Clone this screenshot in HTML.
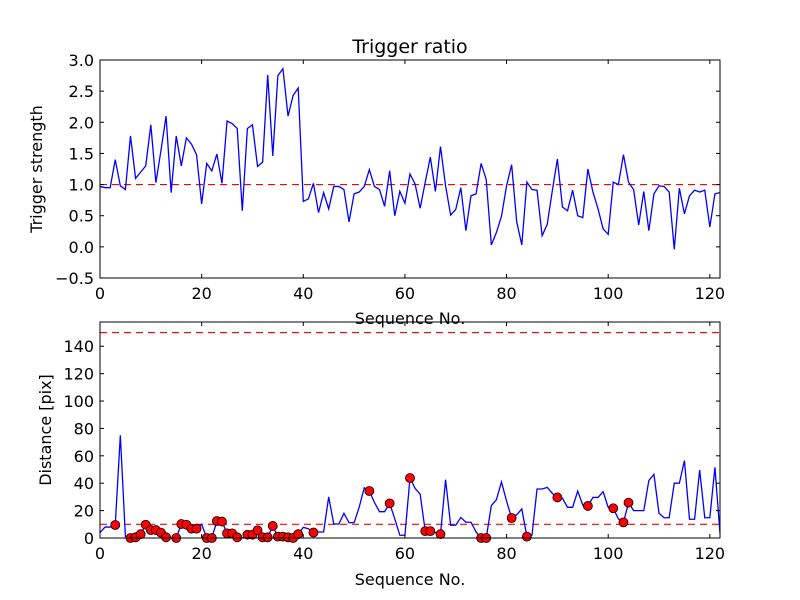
<!DOCTYPE html>
<html><head><meta charset="utf-8"><style>
body{margin:0;background:#fff}
svg{display:block;font-family:"DejaVu Sans","Liberation Sans",sans-serif}
</style></head><body>
<svg id="c" width="800" height="600" xmlns="http://www.w3.org/2000/svg"></svg>
<script>
const xTicks=[0,20,40,60,80,100,120];
const topYTicks=[-0.5,0.0,0.5,1.0,1.5,2.0,2.5,3.0];
const botYTicks=[0,20,40,60,80,100,120,140];
const triggerStrength=[0.97,0.95,0.95,1.40,0.98,0.92,1.78,1.10,1.20,1.30,1.96,1.03,1.55,2.10,0.87,1.78,1.30,1.75,1.65,1.48,0.69,1.34,1.22,1.49,1.02,2.02,1.98,1.90,0.58,1.90,1.96,1.29,1.36,2.76,1.46,2.75,2.86,2.10,2.43,2.55,0.73,0.77,1.02,0.55,0.87,0.61,0.97,0.97,0.92,0.40,0.85,0.88,0.97,1.24,0.97,0.92,0.65,1.22,0.50,0.89,0.70,1.17,1.01,0.62,1.04,1.44,0.89,1.61,0.98,0.51,0.60,0.95,0.26,0.82,0.85,1.34,1.08,0.03,0.23,0.49,0.98,1.32,0.40,0.03,1.04,0.92,0.91,0.18,0.36,0.90,1.41,0.64,0.58,0.91,0.50,0.47,1.25,0.88,0.61,0.29,0.20,1.04,1.00,1.48,1.04,0.92,0.35,0.89,0.26,0.85,0.98,0.97,0.88,-0.04,0.94,0.53,0.82,0.91,0.88,0.91,0.32,0.85,0.87];
const distance=[4,8,8,9.5,75,1,0,0.5,2.8,9.7,5.8,5.8,3.9,0.5,0,0,10.2,9.7,6.8,6.8,10,0,0,12.4,12,3.4,3.4,0.5,0,2.4,2.4,5.6,0.5,0.5,8.8,1,1,0.5,0,2.8,7.8,6.8,4,4.4,4.4,30,10.2,10.2,18,11.2,11.2,22.4,36.7,34.3,26,19.2,19.2,25.3,14,2,2,43.8,36.2,32,5,5,4,2.8,42.6,9.3,9.3,15,11.5,11.5,4.4,0,0,23.6,28,40.9,27,14.6,17,21.2,1,2,35.8,35.8,37,32.6,29.6,29,22.4,22.4,34.3,24,23.4,29.6,29.6,33.8,22.4,21.7,14,11.4,25.8,20,20,20,42,46.5,18,14.8,14.8,40,40,56.5,13.7,13.7,49.6,14.8,14.8,51.6,3.4];
const markerIdx=[3,6,7,8,9,10,11,12,13,15,16,17,18,19,21,22,23,24,25,26,27,29,30,31,32,33,34,35,36,37,38,39,42,53,57,61,64,65,67,75,76,81,84,90,96,101,103,104];
const topThreshold=[1.0];
const botThresholds=[10,150];

const svg=document.getElementById('c');const NS='http://www.w3.org/2000/svg';
function mk(t,a,p){const e=document.createElementNS(NS,t);for(const k in a)e.setAttribute(k,a[k]);(p||svg).appendChild(e);return e;}
const L=100,R=720;
const xs=v=>L+(v/122)*(R-L);
function panel(T,B,ymin,ymax,yticks,fmt,vals,thr,name,ylabel,ylx){
  const g=mk('g',{});
  
  
  const ys=v=>B-(v-ymin)/(ymax-ymin)*(B-T);
  mk('rect',{x:L,y:T,width:R-L,height:B-T,fill:'#fff'},g);
  thr.forEach(t=>{const l=mk('line',{x1:L,x2:R,y1:ys(t),y2:ys(t),stroke:'#ff0000','stroke-width':1.2,'stroke-dasharray':'7,5'},g);
    
    });
  const p=mk('polyline',{points:vals.map((v,i)=>xs(i)+','+ys(v)).join(' '),fill:'none',stroke:'#0000ff','stroke-width':1.3},g);
  
  
  xTicks.forEach(t=>{const x=xs(t);
    mk('line',{x1:x,x2:x,y1:B,y2:B-4,stroke:'#000'},g);mk('line',{x1:x,x2:x,y1:T,y2:T+4,stroke:'#000'},g);
    const tx=mk('text',{x:x,y:B+21,'text-anchor':'middle','font-size':16},g);tx.textContent=t;
    
    });
  yticks.forEach(t=>{const y=ys(t);
    mk('line',{x1:L,x2:L+4,y1:y,y2:y,stroke:'#000'},g);mk('line',{x1:R,x2:R-4,y1:y,y2:y,stroke:'#000'},g);
    const tx=mk('text',{x:L-6,y:y+6,'text-anchor':'end','font-size':16},g);tx.textContent=fmt(t);
    
    });
  const yl=mk('text',{x:ylx,y:(T+B)/2,'text-anchor':'middle','font-size':16,transform:`rotate(-90 ${ylx} ${(T+B)/2})`},g);yl.textContent=ylabel;
  
  
  return {g,ys};
}
const topPanel=panel(60,278,-0.5,3.0,topYTicks,t=>t.toFixed(1).replace('-','\u2212'),triggerStrength,topThreshold,'trigger-panel','Trigger strength',42);
const botPanel=panel(322,538,0,157.7,botYTicks,t=>String(t),distance,botThresholds,'distance-panel','Distance [pix]',51);
markerIdx.forEach(i=>{const c=mk('circle',{cx:xs(i),cy:botPanel.ys(distance[i]),r:4.5,fill:'#ff0000',stroke:'#000','stroke-width':0.8},botPanel.g);
  
  });
[[60,278],[322,538]].forEach(([T,B])=>{const r=mk('rect',{x:L,y:T,width:R-L,height:B-T,fill:'none',stroke:'#000','stroke-width':1});
  
  });
function txt(s,x,y,sz,name){const t=mk('text',{x:x,y:y,'text-anchor':'middle','font-size':sz});t.textContent=s;
  
  }
txt('Trigger ratio',410,53,19,'chart-title');
txt('Sequence No.',410,324,16,'top-x-axis-title');
txt('Sequence No.',410,585,16,'bottom-x-axis-title');
</script>
</body></html>
